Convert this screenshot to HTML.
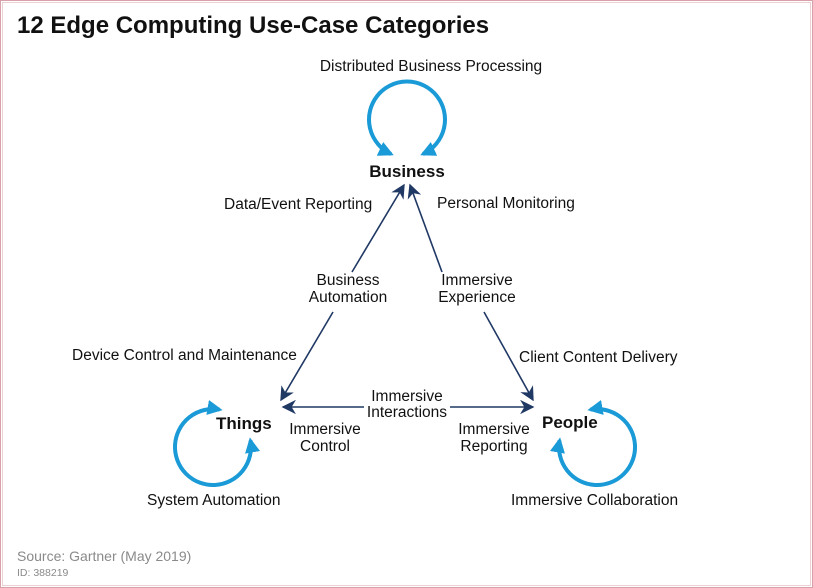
<!DOCTYPE html>
<html><head><meta charset="utf-8"><style>
html,body{margin:0;padding:0;background:#fff}
svg{display:block}
text{font-family:"Liberation Sans",Arial,sans-serif;fill:#111}
</style></head><body>
<svg width="813" height="588" viewBox="0 0 813 588" xmlns="http://www.w3.org/2000/svg">
<defs>
<marker id="ba" viewBox="0 0 10 10" refX="8" refY="5" markerWidth="3.8" markerHeight="3.8" orient="auto-start-reverse" markerUnits="strokeWidth">
<path d="M0,0 L10,5 L0,10 Z" fill="#1a9ad6"/></marker>
<marker id="da" viewBox="0 0 10 10" refX="9" refY="5" markerWidth="9" markerHeight="9" orient="auto-start-reverse" markerUnits="strokeWidth">
<path d="M0,0 L10,5 L0,10 L3,5 Z" fill="#1f3864"/></marker>
</defs>
<rect x="0.5" y="0.5" width="812" height="587" fill="#fff" stroke="#d8a0a8" stroke-width="1"/>
<rect x="2.5" y="2.5" width="808" height="583" fill="none" stroke="#ecd0d4" stroke-width="1"/>
<text x="17" y="33" font-size="24" font-weight="bold">12 Edge Computing Use-Case Categories</text>

<g fill="none" stroke="#1a9ad6" stroke-width="4">
<path d="M391,154 A38,38 0 1 1 423,154" marker-start="url(#ba)" marker-end="url(#ba)"/>
<path d="M219.6,409.6 A38,38 0 1 0 250.4,440.4" marker-start="url(#ba)" marker-end="url(#ba)"/>
<path d="M590.4,409.6 A38,38 0 1 1 559.6,440.4" marker-start="url(#ba)" marker-end="url(#ba)"/>
</g>

<g stroke="#1f3864" stroke-width="1.6" fill="none">
<path d="M352,272 L404,185" marker-end="url(#da)"/>
<path d="M333,312 L281,400" marker-end="url(#da)"/>
<path d="M442,272 L410,185" marker-end="url(#da)"/>
<path d="M484,312 L533,400" marker-end="url(#da)"/>
<path d="M364,407 L283,407" marker-end="url(#da)"/>
<path d="M450,407 L533,407" marker-end="url(#da)"/>
</g>

<g font-size="15.5">
<text x="431" y="71" text-anchor="middle">Distributed Business Processing</text>
<text x="407" y="177" text-anchor="middle" font-weight="bold" font-size="17">Business</text>
<text x="224" y="209">Data/Event Reporting</text>
<text x="437" y="208">Personal Monitoring</text>
<text x="348" y="285" text-anchor="middle">Business</text>
<text x="348" y="302" text-anchor="middle">Automation</text>
<text x="477" y="285" text-anchor="middle">Immersive</text>
<text x="477" y="302" text-anchor="middle">Experience</text>
<text x="72" y="360">Device Control and Maintenance</text>
<text x="519" y="362">Client Content Delivery</text>
<text x="407" y="401" text-anchor="middle">Immersive</text>
<text x="407" y="417" text-anchor="middle">Interactions</text>
<text x="216" y="429" font-weight="bold" font-size="17">Things</text>
<text x="542" y="428" font-weight="bold" font-size="17">People</text>
<text x="325" y="434" text-anchor="middle">Immersive</text>
<text x="325" y="451" text-anchor="middle">Control</text>
<text x="494" y="434" text-anchor="middle">Immersive</text>
<text x="494" y="451" text-anchor="middle">Reporting</text>
<text x="147" y="505">System Automation</text>
<text x="511" y="505">Immersive Collaboration</text>
</g>
<text x="17" y="561" font-size="14" style="fill:#8a8a8a">Source: Gartner (May 2019)</text>
<text x="17" y="576" font-size="10.5" style="fill:#8a8a8a">ID: 388219</text>
</svg>
</body></html>
